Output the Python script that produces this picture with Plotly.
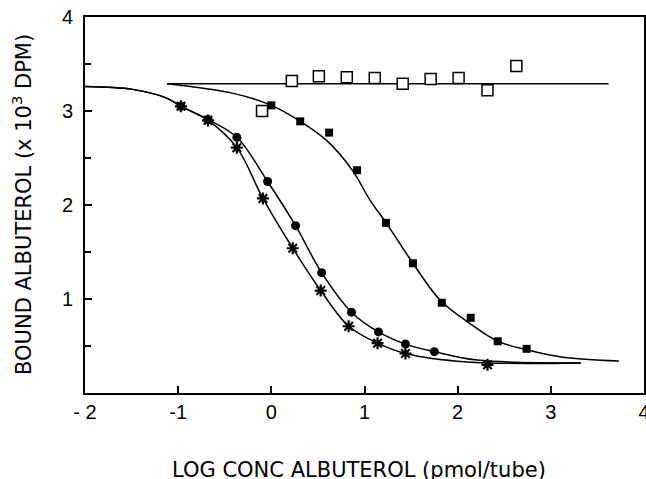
import plotly.graph_objects as go

# Open squares (flat series)
open_x = [-0.10, 0.22, 0.51, 0.81, 1.11, 1.41, 1.71, 2.01, 2.32, 2.63]
open_y = [3.00, 3.32, 3.37, 3.36, 3.35, 3.29, 3.34, 3.35, 3.22, 3.48]
flat_x = [-1.12, 3.62]
flat_y = [3.29, 3.29]

# Filled squares (right curve)
sq_x = [0.00, 0.31, 0.62, 0.92, 1.23, 1.52, 1.83, 2.14, 2.43, 2.74]
sq_y = [3.06, 2.89, 2.77, 2.37, 1.81, 1.38, 0.96, 0.80, 0.55, 0.47]
sq_curve_x = [-1.12, -0.42, 0.00, 0.31, 0.59, 0.87, 1.06, 1.24, 1.52, 1.81, 2.13, 2.43, 2.74, 3.13, 3.73]
sq_curve_y = [3.29, 3.19, 3.06, 2.89, 2.69, 2.37, 2.05, 1.80, 1.38, 0.99, 0.74, 0.55, 0.46, 0.38, 0.34]

# Filled circles (middle curve)
ci_x = [-0.97, -0.68, -0.37, -0.04, 0.26, 0.54, 0.86, 1.15, 1.44, 1.75]
ci_y = [3.05, 2.91, 2.72, 2.25, 1.78, 1.28, 0.86, 0.65, 0.52, 0.44]
ci_curve_x = [-2.00, -1.49, -1.13, -0.97, -0.68, -0.37, -0.04, 0.26, 0.54, 0.86, 1.15, 1.44, 1.75, 2.21, 3.32]
ci_curve_y = [3.26, 3.23, 3.14, 3.05, 2.91, 2.72, 2.25, 1.78, 1.28, 0.86, 0.65, 0.52, 0.44, 0.35, 0.32]

# Stars (left curve)
st_x = [-0.97, -0.68, -0.37, -0.09, 0.23, 0.53, 0.83, 1.14, 1.44, 2.32]
st_y = [3.05, 2.90, 2.61, 2.07, 1.54, 1.09, 0.71, 0.53, 0.42, 0.30]
st_curve_x = [-2.00, -1.49, -1.13, -0.97, -0.68, -0.37, -0.09, 0.23, 0.53, 0.83, 1.14, 1.44, 2.10, 3.32]
st_curve_y = [3.26, 3.23, 3.14, 3.05, 2.90, 2.61, 2.07, 1.54, 1.09, 0.71, 0.53, 0.42, 0.33, 0.32]

x_tickvals = [-2, -1, 0, 1, 2, 3, 4]
x_ticktext = ["- 2", "-1", "0", "1", "2", "3", "4"]
y_tickvals = [1, 2, 3, 4]
y_ticktext = ["1", "2", "3", "4"]

LW = 1.5
fig = go.Figure()
line_style = dict(color="black", width=LW, shape="spline", smoothing=1.0)
fig.add_trace(go.Scatter(x=flat_x, y=flat_y, mode="lines", line=dict(color="black", width=LW)))
fig.add_trace(go.Scatter(x=sq_curve_x, y=sq_curve_y, mode="lines", line=line_style))
fig.add_trace(go.Scatter(x=ci_curve_x, y=ci_curve_y, mode="lines", line=line_style))
fig.add_trace(go.Scatter(x=st_curve_x, y=st_curve_y, mode="lines", line=line_style))

fig.add_trace(go.Scatter(x=open_x, y=open_y, mode="markers",
                         marker=dict(symbol="square", size=11, color="white",
                                     line=dict(color="black", width=1.5))))
fig.add_trace(go.Scatter(x=sq_x, y=sq_y, mode="markers",
                         marker=dict(symbol="square", size=8, color="black")))
fig.add_trace(go.Scatter(x=ci_x, y=ci_y, mode="markers",
                         marker=dict(symbol="circle", size=9, color="black")))
fig.add_trace(go.Scatter(x=st_x, y=st_y, mode="markers",
                         marker=dict(symbol="asterisk-open", size=10, color="black",
                                     line=dict(color="black", width=2.2))))

tick_font = dict(family="Liberation Sans", size=20, color="black")
title_font = dict(family="DejaVu Sans", size=21, color="black")

fig.update_layout(
    width=646, height=479,
    margin=dict(l=85, r=2, t=17, b=86),
    paper_bgcolor="white", plot_bgcolor="white",
    showlegend=False,
    xaxis=dict(range=[-2, 4], tickmode="array", tickvals=x_tickvals, ticktext=x_ticktext,
               ticks="inside", ticklen=7, tickwidth=2, tickcolor="black",
               minor=dict(tick0=-1.999, dtick=1, ticks="inside", ticklen=7, tickwidth=2,
                          tickcolor="black", showgrid=False),
               showline=True, linecolor="black", linewidth=2, mirror=True,
               showgrid=False, zeroline=False, tickfont=tick_font,
               ticklabeloverflow="allow", automargin=False),
    yaxis=dict(range=[0, 4], tickmode="array", tickvals=y_tickvals, ticktext=y_ticktext,
               ticks="inside", ticklen=7, tickwidth=2, tickcolor="black",
               minor=dict(tick0=0.001, dtick=0.5, ticks="inside", ticklen=6, tickwidth=2,
                          tickcolor="black", showgrid=False),
               showline=True, linecolor="black", linewidth=2, mirror=True,
               showgrid=False, zeroline=False, tickfont=tick_font,
               ticklabelstandoff=6, automargin=False),
    annotations=[
        dict(text="LOG CONC ALBUTEROL (pmol/tube)", xref="paper", yref="paper",
             x=0.49, y=0, xanchor="center", yanchor="middle", yshift=-77,
             showarrow=False, font=title_font),
        dict(text="BOUND ALBUTEROL (x 10<sup>3</sup> DPM)", xref="paper", yref="paper",
             x=0, y=0.5, xanchor="center", yanchor="middle", xshift=-63,
             textangle=-90, showarrow=False, font=title_font),
    ],
)

fig.write_html("out.html", config={"displayModeBar": False},
               post_script="document.body.style.margin='0px';document.body.style.padding='0px';")
